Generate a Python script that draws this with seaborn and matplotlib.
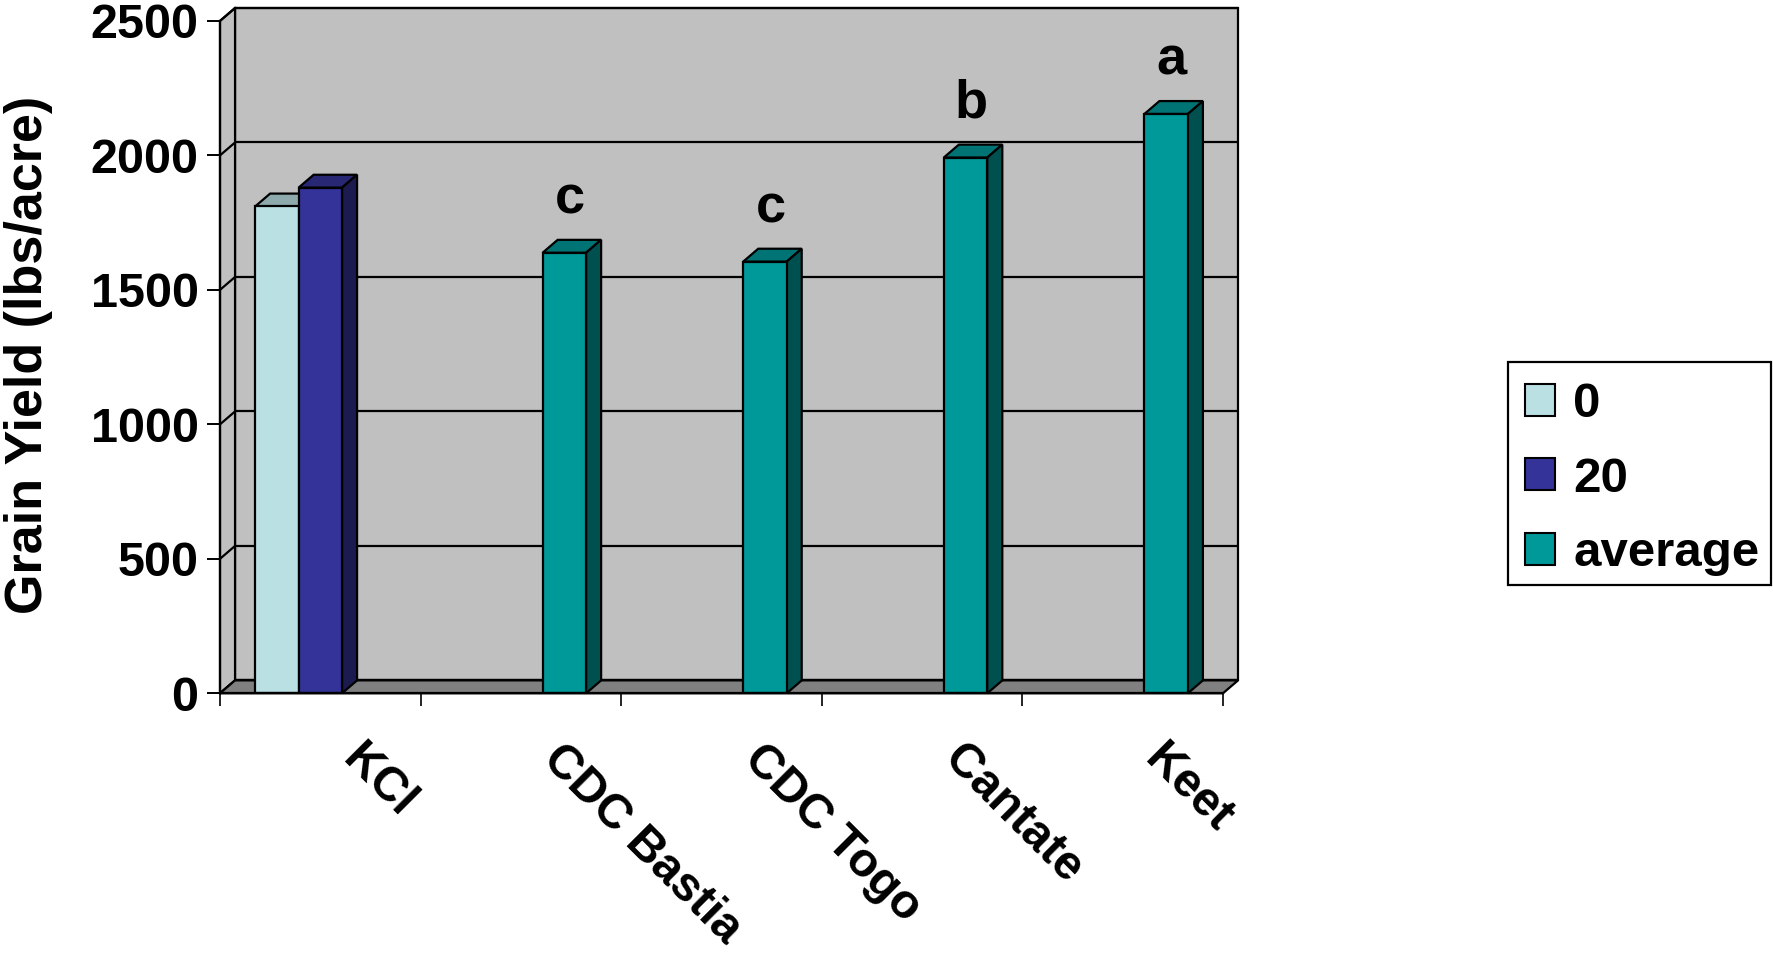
import numpy as np
import pandas as pd
import matplotlib
matplotlib.use("Agg")
import matplotlib.pyplot as plt
from matplotlib.patches import Polygon, Patch, Rectangle
from matplotlib.transforms import ScaledTranslation
import matplotlib.colors as mcolors
import seaborn as sns

# ---------------- data ----------------
categories = ["KCl", "CDC Bastia", "CDC Togo", "Cantate", "Keet"]
series_names = ["0", "20", "average"]
series_colors = ["#BBE0E3", "#333399", "#009999"]

kcl_series = ["0", "20"]
kcl_yield = [1810, 1880]

variety_names = ["CDC Bastia", "CDC Togo", "Cantate", "Keet"]
variety_avg_yield = [1638, 1605, 1992, 2154]
variety_letters = ["c", "c", "b", "a"]

y_ticks = [0, 500, 1000, 1500, 2000, 2500]
y_label = "Grain Yield (lbs/acre)"

rows = [{"cat": "KCl", "series": s, "yield": v} for s, v in zip(kcl_series, kcl_yield)]
rows += [{"cat": c, "series": "average", "yield": v} for c, v in zip(variety_names, variety_avg_yield)]
df = pd.DataFrame(rows)

# ---------------- style ----------------
plt.rcParams['font.family'] = ['Liberation Sans', 'DejaVu Sans']
plt.rcParams['font.weight'] = 'bold'

DPI = 100
W, H = 1774, 955
fig = plt.figure(figsize=(W / DPI, H / DPI), dpi=DPI)
fig.patch.set_facecolor("white")

# 3-D depth offsets (category units / yield units)
dx = 0.075
dy = 48
ymax = y_ticks[-1]
n = len(categories)

ax = fig.add_axes([220 / W, 1 - 693.3 / H, 1018 / W, 685.3 / H])
ax.set_facecolor("none")

wall_c = "#C0C0C0"
floor_c = "#808080"
lw = 1.6

sns.barplot(data=df, x="cat", y="yield", hue="series", order=categories,
            hue_order=series_names, palette=series_colors, width=0.65,
            saturation=1, edgecolor="black", linewidth=lw, ax=ax,
            legend=False, zorder=3, errorbar=None)

ax.set_xlim(-0.5, n - 0.5 + dx)
ax.set_ylim(0, ymax + dy)

# back wall
ax.add_patch(Polygon([(-0.5 + dx, dy), (n - 0.5 + dx, dy), (n - 0.5 + dx, ymax + dy),
                      (-0.5 + dx, ymax + dy)], closed=True, facecolor=wall_c,
                     edgecolor="black", linewidth=lw, zorder=0.5, clip_on=False))
# left side wall
ax.add_patch(Polygon([(-0.5, 0), (-0.5 + dx, dy), (-0.5 + dx, ymax + dy), (-0.5, ymax)],
                     closed=True, facecolor=wall_c, edgecolor="black", linewidth=lw,
                     zorder=0.5, clip_on=False))
# gridlines on back wall and side wall
for v in y_ticks:
    ax.plot([-0.5 + dx, n - 0.5 + dx], [v + dy, v + dy], color="black", lw=lw,
            zorder=0.6, clip_on=False, solid_capstyle="butt")
    ax.plot([-0.5, -0.5 + dx], [v, v + dy], color="black", lw=lw, zorder=0.6, clip_on=False)
# floor
ax.add_patch(Polygon([(-0.5, 0), (n - 0.5, 0), (n - 0.5 + dx, dy), (-0.5 + dx, dy)],
                     closed=True, facecolor=floor_c, edgecolor="black", linewidth=lw,
                     zorder=0.7, clip_on=False))


def shade(c, f):
    r, g, b, a = mcolors.to_rgba(c)
    return (r * f, g * f, b * f, a)


# 3-D top and side faces for each bar
for cont in ax.containers:
    for p in cont.patches:
        h = p.get_height()
        if not np.isfinite(h) or h == 0:
            continue
        x0, w = p.get_x(), p.get_width()
        fc = p.get_facecolor()
        ax.add_patch(Polygon([(x0, h), (x0 + w, h), (x0 + w + dx, h + dy), (x0 + dx, h + dy)],
                             closed=True, facecolor=shade(fc, 0.76), edgecolor="black",
                             linewidth=lw, zorder=2.9, clip_on=False))
        ax.add_patch(Polygon([(x0 + w, 0), (x0 + w + dx, dy), (x0 + w + dx, h + dy), (x0 + w, h)],
                             closed=True, facecolor=shade(fc, 0.52), edgecolor="black",
                             linewidth=lw, zorder=2.9, clip_on=False))

# significance letters above the "average" bars
avg_cont = ax.containers[series_names.index("average")]
for p in avg_cont.patches:
    h = p.get_height()
    if not np.isfinite(h) or h == 0:
        continue
    xc = p.get_x() + p.get_width() / 2
    cat = categories[int(round(xc))]
    letter = variety_letters[variety_names.index(cat)]
    ax.annotate(letter, (xc, h), xytext=(4, 28.5), textcoords="offset points",
                ha="center", va="baseline", fontsize=39, fontweight="bold", zorder=5)

# axes / spines
for s in ["top", "right"]:
    ax.spines[s].set_visible(False)
ax.spines["left"].set_bounds(0, ymax)
ax.spines["bottom"].set_bounds(-0.5, n - 0.5)
ax.spines["left"].set_linewidth(lw)
ax.spines["bottom"].set_linewidth(lw)
ax.spines["left"].set_zorder(4)
ax.spines["bottom"].set_zorder(4)

ax.set_yticks(y_ticks)
ax.set_yticklabels([str(v) for v in y_ticks], fontsize=35, fontweight="bold")
ax.tick_params(axis="y", length=9.4, width=1.4, pad=6.0, direction="out")
ax.set_xticks(np.arange(-0.5, n, 1.0))
ax.set_xticklabels([])
ax.tick_params(axis="x", length=9.4, width=1.2, direction="out")
ax.set_xlabel("")
ax.set_ylabel("")

# rotated category labels
offs = ScaledTranslation(45 / DPI, -43 / DPI, fig.dpi_scale_trans)
for i, name in enumerate(categories):
    ax.text(i, 0, name, transform=ax.get_xaxis_transform() + offs, rotation=-45,
            rotation_mode="anchor", ha="left", va="top", fontsize=34.5, fontweight="bold")

fig.text(29 / W, 1 - 355 / H, y_label, rotation=90, ha="center", va="center",
         fontsize=37.5, fontweight="bold")

# legend (frame drawn separately)
handles = [Patch(facecolor=c, edgecolor="black", linewidth=1.5) for c in series_colors]
leg = fig.legend(handles, series_names, loc="upper left",
                 bbox_to_anchor=(1525 / W, 1 - 382 / H), fontsize=35.5,
                 frameon=False, borderpad=0,
                 labelspacing=0.6, handlelength=0.6, handleheight=0.62,
                 handletextpad=0.38, borderaxespad=0)
for t in leg.get_texts():
    t.set_fontweight("bold")
fig.add_artist(Rectangle((1508 / W, 1 - 585 / H), (1771 - 1508) / W, (585 - 362) / H,
                         transform=fig.transFigure, fill=False, edgecolor="black",
                         linewidth=1.6))

fig.savefig("out.png", dpi=DPI, facecolor="white")
